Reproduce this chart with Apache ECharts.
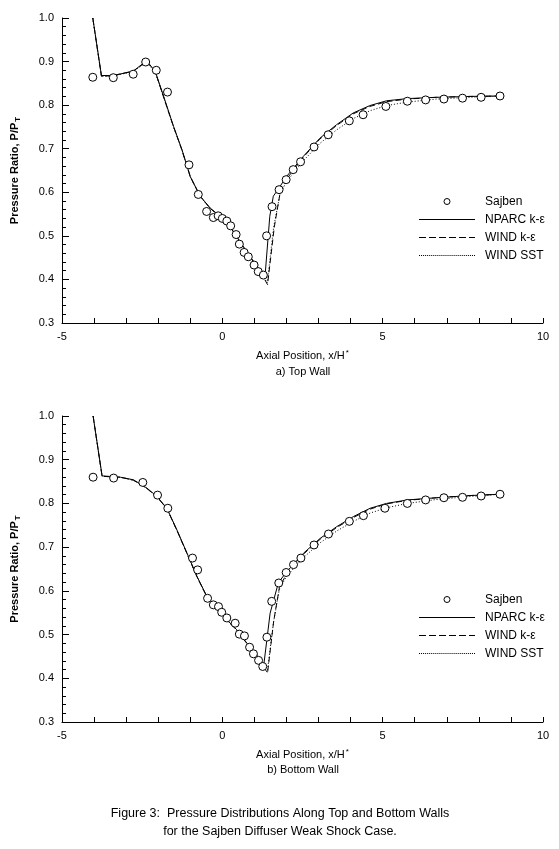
<!DOCTYPE html>
<html>
<head>
<meta charset="utf-8">
<script src="https://cdn.jsdelivr.net/npm/echarts@6/dist/echarts.min.js"></script>
<style>
  html, body { margin: 0; padding: 0; background: #fff; }
  #main { width: 559px; height: 849px; }
</style>
</head>
<body>
<div id="main"></div>
<script>
// axis ticks
var xTicks = [-5, 0, 5, 10]
var yTicks = [0.3, 0.4, 0.5, 0.6, 0.7, 0.8, 0.9, 1.0]
var seriesNames = ['Sajben', 'NPARC k-\u03b5', 'WIND k-\u03b5', 'WIND SST']

// a) top wall
var sajbenTop = [[-4.04, 0.864], [-3.40, 0.863], [-2.78, 0.871], [-2.39, 0.899], [-2.06, 0.880],
  [-1.71, 0.830], [-1.04, 0.663], [-0.75, 0.595], [-0.49, 0.556], [-0.28, 0.542], [-0.13, 0.546],
  [0.0, 0.540], [0.14, 0.534], [0.26, 0.523], [0.43, 0.503], [0.53, 0.481], [0.68, 0.462],
  [0.81, 0.452], [0.99, 0.433], [1.12, 0.418], [1.28, 0.410], [1.38, 0.500], [1.55, 0.567],
  [1.77, 0.606], [1.99, 0.629], [2.21, 0.652], [2.44, 0.670], [2.86, 0.704], [3.30, 0.732],
  [3.96, 0.764], [4.39, 0.778], [5.10, 0.797], [5.77, 0.809], [6.34, 0.812], [6.91, 0.814],
  [7.49, 0.816], [8.07, 0.818], [8.66, 0.821]]
var nparcTop = [[-4.04, 1.0], [-3.77, 0.868], [-3.40, 0.868], [-2.78, 0.878], [-2.36, 0.902],
  [-2.09, 0.877], [-1.83, 0.820], [-1.52, 0.751], [-1.26, 0.698], [-1.00, 0.636], [-0.69, 0.591],
  [-0.38, 0.564], [-0.07, 0.545], [0.24, 0.522], [0.55, 0.487], [0.86, 0.453], [1.17, 0.422],
  [1.33, 0.406], [1.48, 0.545], [1.59, 0.591], [1.75, 0.608], [2.0, 0.636], [2.52, 0.682],
  [3.04, 0.724], [3.56, 0.755], [4.08, 0.782], [4.60, 0.799], [5.12, 0.810], [5.77, 0.815],
  [6.68, 0.818], [7.72, 0.820], [8.66, 0.821]]
var windKeTop = [[-4.04, 1.0], [-3.77, 0.866], [-3.40, 0.868], [-2.78, 0.878], [-2.36, 0.900],
  [-2.09, 0.876], [-1.83, 0.818], [-1.52, 0.750], [-1.26, 0.697], [-1.00, 0.636], [-0.69, 0.591],
  [-0.38, 0.563], [-0.07, 0.544], [0.24, 0.521], [0.55, 0.486], [0.86, 0.452], [1.17, 0.420],
  [1.41, 0.388], [1.62, 0.520], [1.80, 0.598], [2.0, 0.630], [2.52, 0.680], [3.04, 0.722],
  [3.56, 0.753], [4.08, 0.780], [4.60, 0.797], [5.12, 0.808], [5.77, 0.814], [6.68, 0.818],
  [7.72, 0.820], [8.66, 0.821]]
var windSstTop = [[-4.04, 1.0], [-3.77, 0.866], [-3.40, 0.867], [-2.78, 0.877], [-2.36, 0.899],
  [-2.09, 0.875], [-1.83, 0.818], [-1.52, 0.750], [-1.26, 0.697], [-1.00, 0.635], [-0.69, 0.590],
  [-0.38, 0.563], [-0.07, 0.544], [0.24, 0.521], [0.55, 0.486], [0.86, 0.452], [1.17, 0.420],
  [1.40, 0.392], [1.60, 0.520], [1.80, 0.596], [2.0, 0.624], [2.52, 0.672], [3.04, 0.712],
  [3.56, 0.743], [4.08, 0.769], [4.60, 0.787], [5.12, 0.799], [5.77, 0.807], [6.68, 0.814],
  [7.72, 0.818], [8.66, 0.821]]

// b) bottom wall
var sajbenBottom = [[-4.03, 0.860], [-3.39, 0.858], [-2.48, 0.848], [-2.02, 0.819], [-1.70, 0.789],
  [-0.93, 0.675], [-0.77, 0.648], [-0.46, 0.583], [-0.28, 0.568], [-0.12, 0.564], [-0.02, 0.551],
  [0.14, 0.538], [0.40, 0.526], [0.53, 0.501], [0.69, 0.497], [0.85, 0.471], [0.97, 0.456],
  [1.13, 0.441], [1.26, 0.427], [1.39, 0.494], [1.54, 0.576], [1.76, 0.618], [1.99, 0.642],
  [2.22, 0.660], [2.45, 0.675], [2.86, 0.705], [3.31, 0.730], [3.96, 0.759], [4.40, 0.772],
  [5.07, 0.789], [5.77, 0.800], [6.34, 0.808], [6.91, 0.813], [7.49, 0.814], [8.07, 0.817],
  [8.66, 0.821]]
var nparcBottom = [[-4.03, 1.0], [-3.75, 0.863], [-3.18, 0.860], [-2.77, 0.854], [-2.35, 0.835],
  [-2.04, 0.816], [-1.73, 0.789], [-1.42, 0.740], [-1.10, 0.686], [-0.79, 0.633], [-0.48, 0.587],
  [-0.17, 0.561], [0.14, 0.534], [0.45, 0.511], [0.76, 0.481], [1.07, 0.454], [1.28, 0.423],
  [1.49, 0.549], [1.75, 0.619], [2.01, 0.644], [2.53, 0.686], [3.05, 0.720], [3.57, 0.747],
  [4.09, 0.770], [4.61, 0.789], [5.12, 0.800], [5.77, 0.808], [6.68, 0.813], [7.72, 0.818],
  [8.66, 0.821]]
var windKeBottom = [[-4.03, 1.0], [-3.75, 0.862], [-3.18, 0.860], [-2.77, 0.853], [-2.35, 0.834],
  [-2.04, 0.815], [-1.73, 0.788], [-1.42, 0.739], [-1.10, 0.685], [-0.79, 0.632], [-0.48, 0.586],
  [-0.17, 0.560], [0.14, 0.533], [0.45, 0.510], [0.76, 0.480], [1.07, 0.452], [1.41, 0.412],
  [1.60, 0.530], [1.78, 0.608], [2.01, 0.640], [2.53, 0.684], [3.05, 0.718], [3.57, 0.745],
  [4.09, 0.768], [4.61, 0.787], [5.12, 0.799], [5.77, 0.807], [6.68, 0.813], [7.72, 0.818],
  [8.66, 0.821]]
var windSstBottom = [[-4.03, 1.0], [-3.75, 0.862], [-3.18, 0.860], [-2.77, 0.853], [-2.35, 0.834],
  [-2.04, 0.815], [-1.73, 0.788], [-1.42, 0.739], [-1.10, 0.685], [-0.79, 0.632], [-0.48, 0.586],
  [-0.17, 0.560], [0.14, 0.533], [0.45, 0.510], [0.76, 0.480], [1.07, 0.452], [1.40, 0.414],
  [1.60, 0.530], [1.78, 0.604], [2.01, 0.634], [2.53, 0.676], [3.05, 0.710], [3.57, 0.737],
  [4.09, 0.759], [4.61, 0.778], [5.12, 0.790], [5.77, 0.800], [6.68, 0.809], [7.72, 0.816],
  [8.66, 0.821]]

var FONT = 'Liberation Sans, Arial, sans-serif'

// legend keys drawn as small filled paths (solid / dashed / dotted)
var ICON_SOLID = 'path://M0,0h56v1h-56z'
var ICON_DASHED = 'path://M0,0h7v1h-7z M10,0h7v1h-7z M20,0h7v1h-7z M30,0h7v1h-7z M40,0h7v1h-7z M50,0h6v1h-6z'
var ICON_DOTTED = (function () {
  var p = 'path://'
  for (var i = 0; i < 28; i++) p += 'M' + (i * 2) + ',0h1v1h-1z '
  return p
})()

function xAxisOf(gridIndex) {
  return {
    type: 'value',
    gridIndex: gridIndex,
    min: xTicks[0],
    max: xTicks[xTicks.length - 1],
    interval: 5,
    name: 'Axial Position, x/H{sup|*}',
    nameLocation: 'middle',
    nameGap: 26,
    nameTextStyle: {
      color: '#000',
      fontFamily: FONT,
      fontSize: 11,
      rich: { sup: { fontSize: 8, verticalAlign: 'top', padding: [0, 0, 6, 1], color: '#000' } }
    },
    axisLine: { onZero: false, lineStyle: { color: '#000', width: 1 } },
    axisTick: { inside: true, length: 5, lineStyle: { color: '#000' } },
    minorTick: { show: true, splitNumber: 5, length: 5, lineStyle: { color: '#000' } },
    axisLabel: { color: '#000', fontFamily: FONT, fontSize: 11, margin: 8 },
    splitLine: { show: false }
  }
}

function yAxisOf(gridIndex) {
  return {
    type: 'value',
    gridIndex: gridIndex,
    min: yTicks[0],
    max: yTicks[yTicks.length - 1],
    interval: 0.1,
    name: 'Pressure Ratio, P/P{sub|T}',
    nameLocation: 'middle',
    nameRotate: 90,
    nameGap: 40,
    nameTextStyle: {
      color: '#000',
      fontFamily: FONT,
      fontSize: 11,
      fontWeight: 'bold',
      rich: { sub: { fontSize: 8, fontWeight: 'bold', padding: [6, 0, 0, 1], color: '#000' } }
    },
    axisLine: { show: true, onZero: false, lineStyle: { color: '#000', width: 1 } },
    axisTick: { show: true, inside: true, length: 7, lineStyle: { color: '#000' } },
    minorTick: { show: true, splitNumber: 5, length: 4, lineStyle: { color: '#000' } },
    axisLabel: {
      color: '#000', fontFamily: FONT, fontSize: 11, margin: 8,
      formatter: function (v) { return v.toFixed(1) }
    },
    splitLine: { show: false }
  }
}

function seriesOf(i, sajben, nparc, windKe, windSst) {
  var lineBase = { type: 'line', xAxisIndex: i, yAxisIndex: i, symbol: 'none', smooth: false, z: 2 }
  return [
    {
      name: seriesNames[0], type: 'scatter', xAxisIndex: i, yAxisIndex: i,
      symbol: 'circle', symbolSize: 8, z: 3,
      itemStyle: { color: '#fff', borderColor: '#000', borderWidth: 1, opacity: 1 },
      data: sajben
    },
    Object.assign({}, lineBase, { name: seriesNames[1], data: nparc,
      lineStyle: { color: '#000', width: 1, type: 'solid' }, itemStyle: { color: '#000' } }),
    Object.assign({}, lineBase, { name: seriesNames[2], data: windKe,
      lineStyle: { color: '#000', width: 1, type: [6, 3] }, itemStyle: { color: '#000' } }),
    Object.assign({}, lineBase, { name: seriesNames[3], data: windSst,
      lineStyle: { color: '#000', width: 1, type: [1, 2] }, itemStyle: { color: '#000' } })
  ]
}

function legendOf(top) {
  return {
    orient: 'vertical',
    left: 419,
    top: top,
    padding: 0,
    itemWidth: 56,
    itemHeight: 6,
    itemGap: 6,
    symbolKeepAspect: true,
    selectedMode: false,
    textStyle: { color: '#000', fontFamily: FONT, fontSize: 12, padding: [0, 0, 0, 5] },
    data: [
      { name: seriesNames[0], icon: 'circle',
        itemStyle: { color: '#fff', borderColor: '#000', borderWidth: 1 } },
      { name: seriesNames[1], icon: ICON_SOLID, itemStyle: { color: '#000', borderWidth: 0 } },
      { name: seriesNames[2], icon: ICON_DASHED, itemStyle: { color: '#000', borderWidth: 0 } },
      { name: seriesNames[3], icon: ICON_DOTTED, itemStyle: { color: '#000', borderWidth: 0 } }
    ]
  }
}

var chartObj = echarts.init(document.getElementById('main'), null, { renderer: 'canvas' })

var option = {
  backgroundColor: '#fff',
  animation: false,
  title: [
    { text: 'a) Top Wall', left: 303, top: 366, textAlign: 'center', padding: 0,
      textStyle: { color: '#000', fontFamily: FONT, fontSize: 11, fontWeight: 'normal' } },
    { text: 'b) Bottom Wall', left: 303, top: 764, textAlign: 'center', padding: 0,
      textStyle: { color: '#000', fontFamily: FONT, fontSize: 11, fontWeight: 'normal' } },
    { text: 'Figure 3:  Pressure Distributions Along Top and Bottom Walls\nfor the Sajben Diffuser Weak Shock Case.',
      left: 280, top: 805, textAlign: 'center', padding: 0,
      textStyle: { color: '#000', fontFamily: FONT, fontSize: 12.5, fontWeight: 'normal', lineHeight: 18 } }
  ],
  legend: [legendOf(195.5), legendOf(593.5)],
  grid: [
    { left: 62, top: 18, width: 481, height: 305, containLabel: false },
    { left: 62, top: 416, width: 481, height: 306, containLabel: false }
  ],
  xAxis: [xAxisOf(0), xAxisOf(1)],
  yAxis: [yAxisOf(0), yAxisOf(1)],
  series: seriesOf(0, sajbenTop, nparcTop, windKeTop, windSstTop)
    .concat(seriesOf(1, sajbenBottom, nparcBottom, windKeBottom, windSstBottom))
}

chartObj.setOption(option, true)
</script>
</body>
</html>
